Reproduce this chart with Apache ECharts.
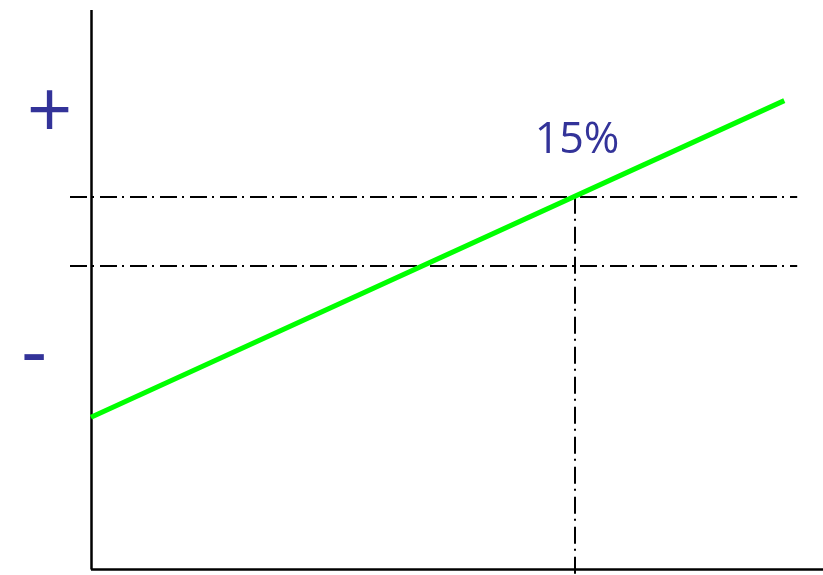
<!DOCTYPE html>
<html>
<head>
<meta charset="utf-8">
<script src="https://cdn.jsdelivr.net/npm/echarts@6/dist/echarts.min.js"></script>
<style>
  html, body { margin: 0; padding: 0; background: #fff; }
  #chart { width: 823px; height: 575px; }
</style>
</head>
<body>
<div id="chart"></div>
<script>
// Rate (%) on x, relative level on y
const xRange = [-0.65, 22.7];
const yRange = [-1, 100];

// Rising line
const lineX = [0, 21.5];
const lineY = [27.2, 83.8];

// Reference levels (dash-dot)
const levelUpper = 66.6;
const levelLower = 54.3;
const levelRightEnd = 21.9;
const markRate = 15;
const markLabel = '15%';

// Side labels
const plusLabel = '+';
const minusLabel = '-';

const ink = '#333399';
const dashDot = [17, 5, 2, 6];

const chart = echarts.init(document.getElementById('chart'), null, { renderer: 'canvas' });

const lineData = lineX.map((x, i) => [x, lineY[i]]);

const dashStyle = { color: '#000', width: 2, type: dashDot };
const axisStyle = { color: '#000', width: 2.5, type: 'solid' };

chart.setOption({
  animation: false,
  grid: { left: 70, right: 0, top: 10, bottom: 0 },
  xAxis: {
    type: 'value', min: xRange[0], max: xRange[1],
    axisLine: { show: false }, axisTick: { show: false },
    axisLabel: { show: false }, splitLine: { show: false }
  },
  yAxis: {
    type: 'value', min: yRange[0], max: yRange[1],
    axisLine: { show: false }, axisTick: { show: false },
    axisLabel: { show: false }, splitLine: { show: false }
  },
  series: [
    {
      // axes frame drawn in data space so it starts at the origin
      type: 'line',
      data: [],
      silent: true,
      markLine: {
        silent: true,
        symbol: 'none',
        label: { show: false },
        data: [
          [{ coord: [0, 0], lineStyle: axisStyle }, { coord: [xRange[1], 0] }],
          [{ coord: [0, 0], lineStyle: axisStyle }, { coord: [0, yRange[1]] }],
          [{ coord: [xRange[0], levelUpper], lineStyle: dashStyle }, { coord: [levelRightEnd, levelUpper] }],
          [{ coord: [xRange[0], levelLower], lineStyle: dashStyle }, { coord: [levelRightEnd, levelLower] }],
          [{ coord: [markRate, levelUpper], lineStyle: dashStyle }, { coord: [markRate, yRange[0]] }]
        ]
      }
    },
    {
      type: 'line',
      data: lineData,
      showSymbol: false,
      lineStyle: { color: '#00ff00', width: 5 },
      z: 5
    }
  ],
  graphic: [
    {
      type: 'text',
      style: { x: 49.5, y: 115, text: plusLabel, fill: ink, font: '80px "Open Sans"',
               textAlign: 'center', textVerticalAlign: 'middle' }
    },
    {
      type: 'text',
      style: { x: 34, y: 356, text: minusLabel, fill: ink, font: '80px "Open Sans"',
               textAlign: 'center', textVerticalAlign: 'middle' }
    },
    {
      type: 'text',
      style: { x: 577, y: 140.5, text: markLabel, fill: ink, font: '43px "Open Sans"',
               textAlign: 'center', textVerticalAlign: 'middle' }
    }
  ]
});
</script>
</body>
</html>
